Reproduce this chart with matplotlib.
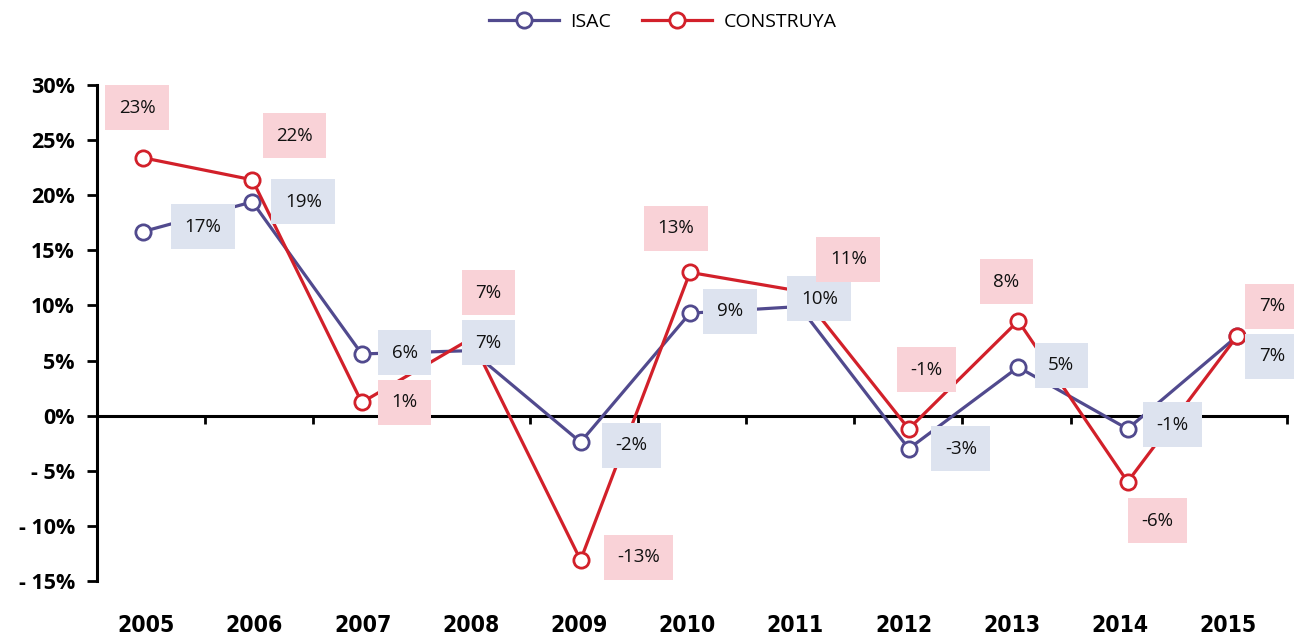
import matplotlib
matplotlib.use("Agg")
import matplotlib.pyplot as plt
from matplotlib.lines import Line2D

years = ["2005", "2006", "2007", "2008", "2009", "2010", "2011", "2012", "2013", "2014", "2015"]
isac = [16.7, 19.4, 5.6, 5.9, -2.4, 9.3, 9.9, -3.0, 4.4, -1.2, 7.2]
construya = [23.4, 21.4, 1.2, 7.0, -13.1, 13.0, 11.3, -1.2, 8.6, -6.0, 7.2]
isac_labels = ["17%", "19%", "6%", "7%", "-2%", "9%", "10%", "-3%", "5%", "-1%", "7%"]
construya_labels = ["23%", "22%", "1%", "7%", "-13%", "13%", "11%", "-1%", "8%", "-6%", "7%"]
yticks = [-15, -10, -5, 0, 5, 10, 15, 20, 25, 30]
ytick_labels = ["- 15%", "- 10%", "- 5%", "0%", "5%", "10%", "15%", "20%", "25%", "30%"]

# label offsets in pixels (layout only)
isac_off = [(60, 5), (51, 0), (43, 1), (17, 8), (51, -3), (40, 2), (20, 8), (52, 0), (43, 2), (45, 4), (35, -20)]
cons_off = [(-6, 50), (42, 44), (43, 0), (17, 46), (58, 3), (-14, 44), (49, 32), (18, 59), (-12, 39), (30, -39), (35, 30)]

C_ISAC = "#514a8e"
C_CONS = "#d2202a"
BOX_ISAC = "#dde3ef"
BOX_CONS = "#f9d2d7"

W, H = 1294, 641
fig = plt.figure(figsize=(W / 100, H / 100), dpi=100)
ax = fig.add_axes([97 / W, (H - 581) / H, (1287 - 97) / W, (581 - 85) / H])

x = list(range(len(years)))
mk = dict(marker="o", ms=11, mfc="white", mew=2.0)
ax.plot(x, isac, color=C_ISAC, lw=2.3, mec=C_ISAC, zorder=3, **mk)
ax.plot(x, construya, color=C_CONS, lw=2.3, mec=C_CONS, zorder=4, **mk)

ax.set_xlim(-0.42, 10.457)
ax.set_ylim(-15, 30)

for vals, labs, offs, fc in [(isac, isac_labels, isac_off, BOX_ISAC), (construya, construya_labels, cons_off, BOX_CONS)]:
    for i, (v, lab, (dx, dy)) in enumerate(zip(vals, labs, offs)):
        ax.annotate(lab, (i, v), xytext=(dx * 0.72, dy * 0.72), textcoords="offset points",
                    ha="center", va="center", fontsize=13.5, family="Open Sans", color="#111111",
                    bbox=dict(boxstyle="square,pad=0.72", fc=fc, ec="none"), zorder=6)

# spines
ax.spines["top"].set_visible(False)
ax.spines["right"].set_visible(False)
ax.spines["bottom"].set_position(("data", 0))
ax.spines["left"].set_linewidth(2.2)
ax.spines["bottom"].set_linewidth(2.2)
ax.spines["left"].set_bounds(-15, 30)

ax.set_yticks(yticks)
ax.set_yticklabels(ytick_labels, fontsize=15.5, fontweight="bold", family="Open Sans")
ax.tick_params(axis="y", direction="out", length=7, width=2, pad=9)

n = len(years)
bounds = [-0.42 + (10.457 + 0.42) * (k + 1) / n for k in range(n)]
ax.set_xticks(bounds)
ax.set_xticklabels([])
ax.tick_params(axis="x", direction="out", length=6, width=2)

for i, yr in enumerate(years):
    ax.text((i + 0.5) / n - 0.004, -0.089, yr, transform=ax.transAxes, ha="center", va="center",
            fontsize=16.5, fontweight="bold", family="DejaVu Sans", fontstretch="condensed")

handles = [
    Line2D([], [], color=C_ISAC, lw=2.3, mec=C_ISAC, **mk),
    Line2D([], [], color=C_CONS, lw=2.3, mec=C_CONS, **mk),
]
fig.legend(handles, ["ISAC", "CONSTRUYA"], loc="center", bbox_to_anchor=(663 / W, 1 - 22 / H),
           ncol=2, frameon=False, prop=dict(family="Open Sans", size=14), handlelength=3.6,
           columnspacing=1.6, handletextpad=0.6)

fig.savefig("out.png", dpi=100)
